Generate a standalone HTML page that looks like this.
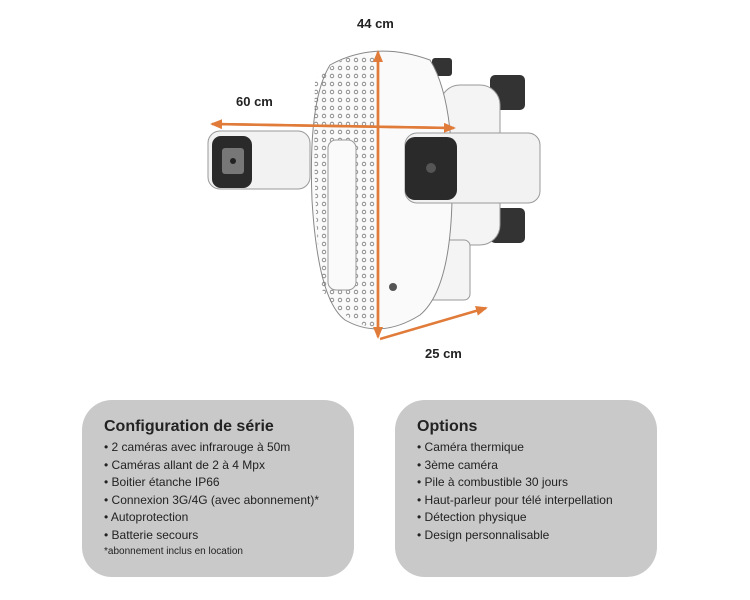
<!DOCTYPE html>
<html><head><meta charset="utf-8"><style>
body{margin:0;width:750px;height:600px;background:#fff;position:relative;font-family:"Liberation Sans",sans-serif;overflow:hidden}
.box{position:absolute;top:400px;height:177px;background:#c9c9c9;border-radius:30px;color:#222}
.box h3{margin:0;position:absolute;left:22px;top:18px;font-size:16px;font-weight:bold}
.box ul{list-style:none;margin:0;padding:0;position:absolute;left:22px;top:39px;font-size:12px;line-height:17.5px}
.box .fn{position:absolute;left:22px;top:146px;font-size:10px}
.lab{position:absolute;font-weight:bold;font-size:13px;color:#222}
</style></head><body>
<svg width="750" height="380" style="position:absolute;left:0;top:0">
<defs><pattern id="d" width="8" height="8" patternUnits="userSpaceOnUse"><circle cx="4" cy="4" r="1.8" fill="none" stroke="#777" stroke-width="0.8"/></pattern>
<marker id="a" markerUnits="userSpaceOnUse" markerWidth="12" markerHeight="10" refX="10" refY="5" orient="auto"><path d="M0,0L12,5L0,10z" fill="#e07b39"/></marker></defs>
<rect x="490" y="75" width="35" height="35" rx="5" fill="#333"/>
<rect x="490" y="208" width="35" height="35" rx="5" fill="#333"/>
<rect x="432" y="58" width="20" height="18" rx="3" fill="#333"/>
<rect x="440" y="85" width="60" height="160" rx="20" fill="#f4f4f4" stroke="#999"/>
<rect x="420" y="240" width="50" height="60" rx="6" fill="#f4f4f4" stroke="#999"/>
<path d="M330,65 Q375,40 430,60 Q455,100 452,200 Q450,290 420,315 Q380,340 345,320 Q318,300 312,200 Q308,100 330,65z" fill="#fafafa" stroke="#888"/>
<path d="M315,80 Q345,50 378,55 L378,330 Q340,320 322,290 Q312,200 315,80z" fill="url(#d)"/>
<rect x="328" y="140" width="28" height="150" rx="8" fill="#fafafa" stroke="#999"/>
<circle cx="393" cy="287" r="4" fill="#555"/>
<rect x="208" y="131" width="102" height="58" rx="12" fill="#f2f2f2" stroke="#999"/>
<rect x="212" y="136" width="40" height="52" rx="9" fill="#2a2a2a"/>
<rect x="222" y="148" width="22" height="26" rx="3" fill="#777"/>
<circle cx="233" cy="161" r="3" fill="#222"/>
<rect x="405" y="133" width="135" height="70" rx="12" fill="#f2f2f2" stroke="#999"/>
<rect x="405" y="137" width="52" height="63" rx="10" fill="#2a2a2a"/>
<circle cx="431" cy="168" r="5" fill="#555"/>
<line x1="452" y1="128" x2="212" y2="124" stroke="#e07b39" stroke-width="2.5" marker-end="url(#a)"/>
<line x1="214" y1="124" x2="454" y2="128" stroke="#e07b39" stroke-width="2.5" marker-end="url(#a)"/>
<line x1="378" y1="333" x2="378" y2="52" stroke="#e07b39" stroke-width="2.5" marker-end="url(#a)"/>
<line x1="378" y1="56" x2="378" y2="337" stroke="#e07b39" stroke-width="2.5" marker-end="url(#a)"/>
<line x1="380" y1="339" x2="486" y2="308" stroke="#e07b39" stroke-width="2.5" marker-end="url(#a)"/>
</svg>
<div class="lab" style="left:357px;top:16px">44 cm</div>
<div class="lab" style="left:236px;top:94px">60 cm</div>
<div class="lab" style="left:425px;top:346px">25 cm</div>
<div class="box" style="left:82px;width:272px">
<h3>Configuration de série</h3>
<ul><li>• 2 caméras avec infrarouge à 50m</li><li>• Caméras allant de 2 à 4 Mpx</li><li>• Boitier étanche IP66</li><li>• Connexion 3G/4G (avec abonnement)*</li><li>• Autoprotection</li><li>• Batterie secours</li></ul>
<div class="fn">*abonnement inclus en location</div>
</div>
<div class="box" style="left:395px;width:262px">
<h3>Options</h3>
<ul><li>• Caméra thermique</li><li>• 3ème caméra</li><li>• Pile à combustible 30 jours</li><li>• Haut-parleur pour télé interpellation</li><li>• Détection physique</li><li>• Design personnalisable</li></ul>
</div>
</body></html>
